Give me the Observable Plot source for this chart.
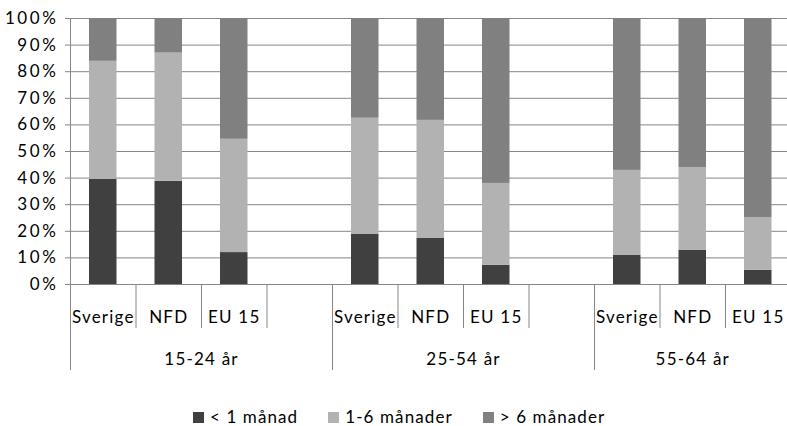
<!DOCTYPE html>
<html>
<head>
<meta charset="utf-8">
<script src="https://cdn.jsdelivr.net/npm/d3@7"></script>
<script src="https://cdn.jsdelivr.net/npm/@observablehq/plot@0.6"></script>
<style>
  html, body { margin: 0; padding: 0; background: #fff; }
  #chart { width: 787px; height: 426px; position: relative; overflow: hidden; font-family: Lato, "Open Sans", sans-serif; }
  #chart svg g[aria-label="y-axis tick label"] text { letter-spacing: 2.6px; }
  #chart svg g[aria-label="x-axis tick label"] text { letter-spacing: 1.2px; }
  #legend { position: absolute; left: 193px; top: 407px; height: 20px; line-height: 20px; display: flex; align-items: center; font-size: 17px; letter-spacing: 1.1px; color: #000; }
  .item { display: flex; align-items: center; margin-right: 30px; }
  .sw { width: 11px; height: 11px; margin-right: 6px; }
</style>
</head>
<body>
<div id="chart"></div>
<script>
// Data
const groups = ["15-24 år", "25-54 år", "55-64 år"];
const countries = ["Sverige", "NFD", "EU 15"];
const series = ["< 1 månad", "1-6 månader", "> 6 månader"];
// values per bar, order: group1 (Sverige, NFD, EU 15), group2 ..., group3 ...
const lt1 = [39.5, 38.8, 12.0, 18.8, 17.3, 7.2, 10.9, 12.8, 5.3];
const m1to6 = [44.4, 48.2, 42.6, 43.7, 44.4, 30.8, 32.0, 31.2, 19.9];
const gt6 = [16.1, 13.0, 45.4, 37.5, 38.3, 62.0, 57.1, 56.0, 74.8];
const yTicks = [0, 0.1, 0.2, 0.3, 0.4, 0.5, 0.6, 0.7, 0.8, 0.9, 1.0];
const colors = ["#404040", "#b2b2b2", "#808080"];

const slotsPerGroup = 4; // 3 bars + one empty slot
const nSlots = groups.length * slotsPerGroup - 1;

const rows = [];
const slotLabels = [];
groups.forEach((g, gi) => countries.forEach((c, ci) => {
  const k = gi * countries.length + ci;
  const slot = gi * slotsPerGroup + ci;
  slotLabels.push({slot, label: c});
  let base = 0;
  [lt1, m1to6, gt6].forEach((arr, si) => {
    rows.push({slot, series: series[si], y1: base / 100, y2: (base + arr[k]) / 100});
    base += arr[k];
  });
}));
const labelBySlotCenter = new Map(slotLabels.map(d => [d.slot + 0.5, d.label]));
const groupCenters = groups.map((g, gi) => {
  const start = gi * slotsPerGroup;
  const end = Math.min(start + slotsPerGroup, nSlots);
  return (start + end) / 2;
});
const groupByCenter = new Map(groupCenters.map((c, i) => [c, groups[i]]));
const slotBounds = d3.range(0, nSlots + 1);
const groupBounds = groups.map((g, gi) => gi * slotsPerGroup).concat([nSlots]);

const grid = "#868686";
const plot = Plot.plot({
  width: 787,
  height: 395,
  marginTop: 18,
  marginBottom: 111,
  marginLeft: 70,
  marginRight: 0,
  style: {fontFamily: "Lato, 'Open Sans', sans-serif", fontSize: "17px", color: "#000", background: "#fff", overflow: "hidden"},
  x: {domain: [0, nSlots], range: [70, 790.5], label: null},
  y: {domain: [0, 1], label: null},
  color: {domain: series, range: colors},
  marks: [
    Plot.gridY({ticks: yTicks, stroke: grid, strokeOpacity: 1}),
    Plot.axisY({ticks: yTicks, tickFormat: d3.format(".0%"), tickSize: 5, tickPadding: 7, stroke: grid, fontSize: 17, fill: "#000", label: null}),
    Plot.rectY(rows, {x1: "slot", x2: d => d.slot + 1, y1: "y1", y2: "y2", fill: "series", insetLeft: 19, insetRight: 19}),
    Plot.ruleX([0], {y1: 0, y2: 1, stroke: grid}),
    Plot.axisX({ticks: slotBounds, tickSize: 44, tickFormat: () => "", stroke: grid, label: null}),
    Plot.axisX({ticks: groupBounds, tickSize: 86, tickFormat: () => "", stroke: grid, label: null}),
    Plot.axisX({ticks: [...labelBySlotCenter.keys()], tickSize: 0, tickPadding: 26, tickFormat: d => labelBySlotCenter.get(d), fontSize: 17, fill: "#000", label: null}),
    Plot.axisX({ticks: groupCenters, tickSize: 0, tickPadding: 68, tickFormat: d => groupByCenter.get(d), fontSize: 17, fill: "#000", label: null})
  ]
});
const chart = document.getElementById("chart");
chart.appendChild(plot);

const legend = document.createElement("div");
legend.id = "legend";
series.forEach((s, i) => {
  const item = document.createElement("div");
  item.className = "item";
  const sw = document.createElement("span");
  sw.className = "sw";
  sw.style.background = colors[i];
  const t = document.createElement("span");
  t.textContent = s;
  item.appendChild(sw);
  item.appendChild(t);
  legend.appendChild(item);
});
chart.appendChild(legend);
</script>
</body>
</html>
